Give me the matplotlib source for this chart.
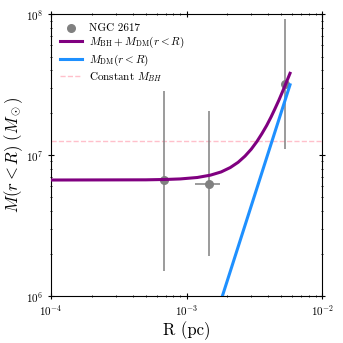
import matplotlib
matplotlib.use("Agg")
import matplotlib.pyplot as plt
import numpy as np

plt.rcParams["font.family"] = "serif"
plt.rcParams["font.serif"] = ["cmr10", "DejaVu Serif"]
plt.rcParams["mathtext.fontset"] = "cm"
plt.rcParams["axes.formatter.use_mathtext"] = True

# observed points (NGC 2617)
obs_r = [6.8e-4, 1.465e-3, 5.33e-3]
obs_m = [6.65e6, 6.2e6, 3.2e7]
obs_r_lo = [6.8e-4, 1.16e-3, 5.33e-3]
obs_r_hi = [6.8e-4, 1.77e-3, 5.33e-3]
obs_m_lo = [1.5e6, 1.92e6, 1.1e7]
obs_m_hi = [2.85e7, 2.05e7, 9.3e7]

# M_BH + M_DM(r<R)
tot_r = [1e-4, 5e-4, 7e-4, 9e-4, 1.2e-3, 1.5e-3, 1.8e-3, 2.1e-3, 2.4e-3,
         2.7e-3, 3.0e-3, 3.3e-3, 3.6e-3, 3.9e-3, 4.2e-3, 4.5e-3, 4.8e-3,
         5.1e-3, 5.4e-3, 5.8e-3]
tot_m = [6.65e6, 6.67e6, 6.71e6, 6.77e6, 6.93e6, 7.2e6, 7.59e6, 8.15e6, 8.88e6,
         9.83e6, 1.1e7, 1.245e7, 1.42e7, 1.62e7, 1.86e7, 2.14e7, 2.45e7,
         2.81e7, 3.21e7, 3.8e7]

# M_DM(r<R)
dm_r = [1.6e-3, 5.8e-3]
dm_m = [6.6e5, 3.15e7]

m_bh_const = 1.26e7

fig = plt.figure(figsize=(3.43, 3.43), dpi=100)
ax = fig.add_axes([0.149, 0.137, 0.79, 0.822])

r = np.array(obs_r)
m = np.array(obs_m)
xerr = [r - np.array(obs_r_lo), np.array(obs_r_hi) - r]
yerr = [m - np.array(obs_m_lo), np.array(obs_m_hi) - m]
ax.scatter(obs_r, obs_m, color="grey", s=30, label="NGC 2617", zorder=3)
ax.errorbar(obs_r, obs_m, xerr=xerr, yerr=yerr, fmt="none", ecolor="grey",
            elinewidth=1.1, capsize=0, zorder=3)
ax.plot(tot_r, tot_m, color="purple", lw=2.2,
        label=r"$M_{\rm BH}+M_{\rm DM}(r<R)$", zorder=4)
ax.plot(dm_r, dm_m, color="dodgerblue", lw=2.2,
        label=r"$M_{\rm DM}(r<R)$", zorder=4)
ax.axhline(m_bh_const, color="pink", ls="--", lw=1.0, label=r"Constant $M_{BH}$")

ax.set_xscale("log")
ax.set_yscale("log")
ax.set_xlim(1e-4, 1e-2)
ax.set_ylim(1e6, 1e8)
ax.set_xlabel("R (pc)", fontsize=12, labelpad=2)
ax.set_ylabel(r"$M(r<R)\ (M_\odot)$", fontsize=12)
ax.yaxis.set_label_coords(-0.095, 0.5)
ax.tick_params(which="both", direction="inout", top=True, right=True, labelsize=8)
ax.tick_params(which="major", length=4, width=0.8)
ax.tick_params(which="minor", length=2, width=0.6)

ax.legend(loc="upper left", frameon=False, fontsize=8, handlelength=2.0,
          handletextpad=0.6, labelspacing=0.2, borderaxespad=0.4)

fig.savefig("out.png", dpi=100)
